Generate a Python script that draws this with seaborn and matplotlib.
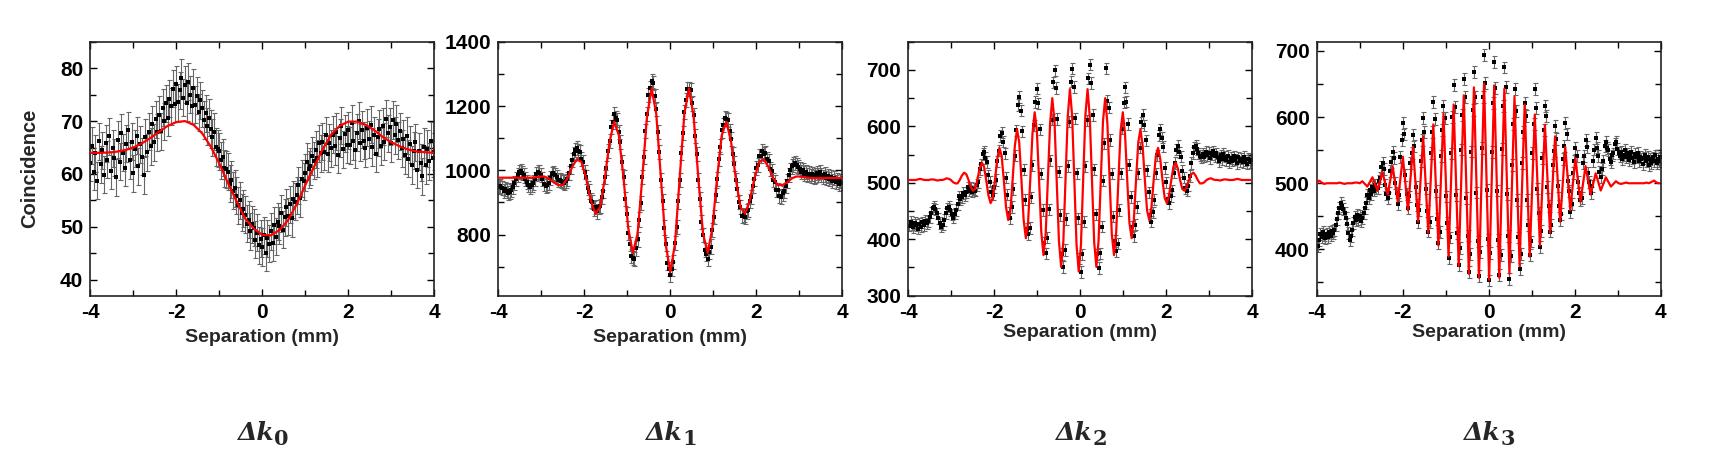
import numpy as np
import pandas as pd
import matplotlib
matplotlib.use("Agg")
import matplotlib.pyplot as plt
from matplotlib.ticker import MultipleLocator
import seaborn as sns

# ---- panel dk0 : measured coincidences (step 0.04 mm from -4) and fit (step 0.2 mm)
dk0_start, dk0_step = -4.0, 0.04
dk0_counts = [
    62.1, 65.3, 60.4, 63.9, 58.7, 66.2, 61.8, 64.5, 59.9, 65.8,
    62.7, 67.1, 60.6, 64.9, 63.1, 59.4, 66.5, 62.3, 67.8, 64.0,
    61.2, 65.7, 68.3, 62.6, 66.1, 60.1, 64.8, 67.2, 61.5, 65.6,
    63.3, 59.8, 66.9, 64.1, 68.0, 65.2, 69.4, 66.0, 70.3, 67.9,
    71.2, 68.1, 72.5, 70.0, 73.4, 70.6, 74.2, 72.8, 76.1, 73.3,
    77.0, 73.6, 75.8, 78.2, 74.4, 76.9, 73.5, 77.4, 75.0, 72.9,
    76.3, 73.1, 74.8, 71.7, 73.9, 72.4, 70.2, 71.5, 69.0, 70.6,
    68.5, 66.9, 68.0, 65.1, 64.8, 64.3, 62.6, 63.2, 61.1, 60.9,
    60.4, 58.2, 58.9, 56.8, 57.3, 55.9, 54.1, 55.0, 52.7, 53.4,
    52.3, 50.6, 51.4, 49.2, 50.5, 49.8, 47.6, 48.9, 46.5, 47.8,
    46.2, 48.4, 45.1, 47.9, 46.8, 49.2, 47.0, 50.3, 48.1, 51.0,
    50.2, 52.6, 49.5, 51.8, 53.7, 52.0, 54.3, 51.6, 55.2, 54.8,
    56.0, 57.9, 55.4, 59.1, 58.6, 60.2, 62.3, 60.9, 61.5, 63.4,
    62.5, 64.6, 63.0, 65.8, 63.9, 66.1, 64.2, 67.3, 63.8, 65.9,
    64.9, 67.4, 65.2, 68.0, 63.6, 66.8, 69.1, 64.7, 67.6, 65.5,
    68.3, 65.4, 69.6, 66.2, 64.6, 67.8, 70.1, 65.9, 68.4, 66.3,
    64.9, 68.7, 66.6, 69.3, 65.1, 67.3, 63.8, 66.9, 68.5, 65.2,
    69.0, 66.1, 70.4, 67.7, 68.9, 65.8, 70.2, 67.3, 69.5, 66.4,
    68.1, 64.9, 66.7, 63.5, 67.2, 62.9, 65.6, 61.7, 64.4, 66.0,
    60.8, 64.3, 62.1, 59.6, 65.1, 61.7, 64.8, 62.4, 66.3, 63.0,
    64.2,
]
dk0_err = 3.5
dk0_fit_start, dk0_fit_step = -4.0, 0.2
dk0_fit = [
    64.0, 64.0, 64.05, 64.2, 64.5, 65.0, 65.8, 66.8, 68.0, 69.1,
    69.8, 70.0, 69.3, 67.7, 65.2, 62.0, 58.3, 54.9, 51.6, 49.7,
    48.5, 48.4, 49.4, 51.3, 54.3, 57.9, 61.3, 64.6, 67.4, 69.1,
    69.9, 69.9, 69.3, 68.3, 67.0, 66.0, 65.2, 64.6, 64.25, 64.1,
    64.0,
]

# ---- panel dk1
dk1_start, dk1_step = -3.9875, 0.03625
dk1_counts = [
    947, 951, 945, 936, 942, 937, 930, 934, 940, 948,
    960, 973, 986, 994, 998, 992, 984, 972, 963, 955,
    949, 953, 962, 974, 988, 996, 993, 985, 972, 958,
    950, 955, 962, 975, 988, 992, 985, 978,
    971, 969, 967, 964, 962, 966, 972, 992, 1012, 1032, 1051, 1063,
    1069, 1059, 1058, 1035, 1026, 994, 979, 945, 934, 906, 901, 881,
    887, 872, 886, 888, 918, 935, 979, 1008, 1060, 1090, 1135, 1150,
    1174, 1162, 1157, 1119, 1087, 1026, 979, 910, 864, 804, 772, 733,
    728, 724, 757, 785, 847, 899, 979, 1042, 1123, 1174, 1233, 1256,
    1278, 1272, 1231, 1192, 1120, 1056, 969, 903, 822, 770, 712, 692,
    675, 694, 716, 774, 824, 903, 969, 1054, 1115, 1182, 1218, 1254,
    1252, 1249, 1208, 1173, 1107, 1050, 971, 912, 840, 798, 753, 739,
    724, 745, 763, 814, 856, 923, 972, 1035, 1074, 1124, 1141, 1164,
    1159, 1156, 1122, 1098, 1051, 1021, 971, 943, 902, 886, 859, 862,
    855, 872, 876, 904, 916, 952, 972, 1006, 1017, 1045, 1045, 1061,
    1052, 1055, 1034, 1030, 1005, 998, 971, 964, 939, 938, 920, 916, 928,
    935, 950, 968, 985, 1000, 1012, 1018, 1022, 1015, 1010,
    1003, 996, 1001, 990, 994, 985, 990, 981, 988, 979,
    984, 992, 985, 995, 986, 980, 987, 976, 983, 972,
    979, 968, 975, 963, 970, 958, 966, 961,
]
dk1_err = 22
dk1_fit_start, dk1_fit_step = -4.02375, 0.10875
dk1_fit = [
    977, 977, 977, 977, 977, 977, 977, 977, 978, 980, 981, 975,
    963, 954, 954, 975, 1010, 1034, 1026, 975, 906, 865, 886, 975,
    1088, 1151, 1109, 975, 821, 743, 803, 975, 1165, 1255, 1175, 975,
    771, 684, 771,
    975, 1175, 1255, 1165, 975, 803, 743, 821, 975, 1109, 1151, 1088,
    975, 886, 865, 906, 975, 1026, 1034, 1010, 975, 954, 954, 963,
    975, 981, 980, 978, 976, 976, 976, 976, 976, 976, 976, 976,
]

# ---- panel dk2
dk2_start, dk2_step = -3.9825, 0.0341667
dk2_counts = [
    424, 431, 426, 421, 429, 425, 419, 427, 422, 430,
    425, 433, 428, 432, 439, 447, 455, 458, 453, 446,
    437, 429, 422, 426, 434, 446, 455, 458, 452, 444,
    438, 445, 452, 462, 476, 471, 475, 482, 478, 483,
    492, 486, 491, 484, 489,
    486, 496, 501, 524, 533, 551,
    555, 544, 537, 513, 502, 484,
    479, 492, 505, 538, 557, 583,
    589, 573, 552, 509, 479, 447,
    437, 457, 489, 548, 593, 638,
    652, 628, 591, 523, 470, 419,
    409, 420, 474, 531, 602, 643,
    667, 641, 595, 516, 452, 394,
    375, 403, 453, 540, 612, 678,
    699, 668, 613, 520, 443, 374,
    351, 381, 436, 530, 608, 679,
    702, 670, 614, 517, 437, 366,
    342, 373, 431, 529, 611, 685,
    709, 677, 620, 524, 444, 373,
    349, 375, 422, 504, 570, 703,
    645, 633, 576, 516, 440, 397,
    379, 392, 452, 517, 596, 642,
    669, 644, 604, 532, 475, 422,
    405, 426, 457, 517, 562, 607,
    621, 602, 575, 522, 483, 443,
    431, 448, 470, 517, 549, 584,
    595, 580, 564, 526, 501, 472,
    464, 476, 487, 518, 535, 559,
    565, 554, 546, 521, 509, 490,
    486, 495, 512, 535, 553, 563, 566, 560, 552, 548,
    545, 551, 546, 555, 549, 553, 544, 550, 556, 547,
    552, 545, 538, 549, 542, 551, 546, 540, 548, 536,
    544, 539, 547, 541, 535, 545, 538, 543, 536, 546,
    540, 534, 542, 537, 541,
]
dk2_err = 10
dk2_fit_start, dk2_fit_step = -3.9825, 0.05125
dk2_fit = [
    505, 505, 505, 505, 506, 507, 506, 505, 505, 505, 506, 506, 505,
    504, 505, 505, 506, 508, 507, 505, 501, 499, 499, 505, 513, 518,
    515, 505, 493, 486, 489, 505, 525, 536, 529, 505, 478, 464, 473,
    505, 542, 562, 548, 505, 457, 434, 451, 505, 565, 595, 571, 505,
    434, 402, 429, 505, 587, 625, 592, 505, 413, 372, 409, 505, 605,
    650, 609, 505, 398, 351, 395, 505, 617, 666, 619, 505, 390,
    343,
    390, 505, 619, 666, 617, 505, 395, 351, 398, 505, 609, 650, 605,
    505, 409, 372, 413, 505, 592, 625, 587, 505, 429, 402, 434, 505,
    571, 595, 565, 505, 451, 434, 457, 505, 548, 562, 542, 505, 473,
    464, 478, 505, 529, 536, 525, 505, 489, 486, 493, 505, 515, 518,
    513, 505, 499, 499, 501, 505, 507, 508, 506, 505, 505, 504, 505,
    506, 506, 505, 505, 505, 506, 507, 506, 505, 505, 505, 505, 505,
]

# ---- panel dk3
dk3_start, dk3_step = -3.9725, 0.0295
dk3_counts = [
    405, 414, 423, 418, 427, 422, 417, 424, 419, 426,
    421, 428, 425, 430, 437, 446, 455, 463, 470, 466,
    461, 455, 448, 438, 425, 414, 420, 430, 440, 449,
    444, 452, 446, 450, 443, 448, 455, 462, 470, 482,
    478, 490, 484, 494, 489, 498, 492,
    493, 503, 508, 525, 530, 522, 497, 484,
    478, 486, 519, 532, 548, 538, 500, 486,
    468, 482, 540, 565, 591, 575, 512, 484,
    462, 480, 531, 546, 573, 556, 494, 467,
    441, 460, 534, 566, 598, 578, 492, 458,
    427, 441, 546, 578, 623, 597, 488, 446,
    409, 426, 541, 580, 617, 598, 480, 440,
    387, 418, 545, 600, 648, 615, 482, 425,
    377, 402, 551, 603, 657, 630, 478, 421,
    366, 393, 548, 611, 668, 630, 486, 412,
    360, 396, 553, 630, 694, 652, 490, 415,
    353, 394, 547, 622, 683, 644, 489, 414,
    361, 391, 552, 617, 675, 646, 484, 420,
    355, 390, 528, 590, 643, 609, 475, 418,
    371, 393, 530, 578, 622, 602, 474, 437,
    391, 412, 546, 590, 643, 614, 492, 455,
    403, 428, 538, 581, 617, 602, 494, 465,
    427, 437, 528, 549, 586, 567, 496, 466,
    444, 453, 536, 557, 591, 574, 503, 488,
    456, 469, 516, 533, 553, 541, 502, 486,
    474, 478, 531, 541, 565, 555, 516, 502,
    485, 496, 534, 551, 568, 554, 541, 517,
    509, 522, 533, 556, 563, 553, 550, 536,
    532, 542, 545, 559, 562,
    552, 546, 541, 548, 537, 543, 550, 539, 545, 535,
    541, 547, 538, 532, 544, 539, 546, 534, 540, 536,
    529, 538, 543, 533, 540, 528, 536, 531, 539, 534,
    542, 530, 537, 533, 539,
]
dk3_err = 9
dk3_fit_start, dk3_fit_step = -4.002, 0.059
dk3_fit = [
    500, 504, 501, 499, 500, 500, 500, 500, 500, 501, 500, 499, 500,
    500, 500, 501, 501, 500, 503, 499, 495, 502, 509, 499, 489, 503,
    517, 500, 483, 504, 525, 498, 472, 506, 540, 500, 459, 507, 555,
    498, 442, 506, 571, 498, 425, 507, 589, 497, 406, 505, 605, 497,
    389, 504, 619, 497, 375, 504, 633, 498, 363, 504, 645, 501, 357,
    504, 651, 502,
    354, 501, 648, 502, 357, 500, 643, 503, 363, 497, 631, 503, 375,
    497, 619, 504, 389, 496, 604, 505, 406, 497, 588, 506, 425, 498,
    571, 506, 442, 498, 555, 507, 459, 498, 538, 505, 472, 499, 526,
    504, 483, 499, 515, 502, 489, 499, 509, 502, 495, 499, 503, 500,
    499, 500, 501, 500, 500, 500, 500, 500, 500, 500, 501, 500, 502,
    504, 501, 500,
]

panels = [
    ("0", dk0_start, dk0_step, dk0_counts, dk0_err, dk0_fit_start, dk0_fit_step, dk0_fit, (37, 85), 10, 5),
    ("1", dk1_start, dk1_step, dk1_counts, dk1_err, dk1_fit_start, dk1_fit_step, dk1_fit, (610, 1400), 200, 100),
    ("2", dk2_start, dk2_step, dk2_counts, dk2_err, dk2_fit_start, dk2_fit_step, dk2_fit, (300, 750), 100, 50),
    ("3", dk3_start, dk3_step, dk3_counts, dk3_err, dk3_fit_start, dk3_fit_step, dk3_fit, (330, 714), 100, 50),
]

sns.set_style("ticks")
plt.rcParams["font.family"] = ["Liberation Sans", "DejaVu Sans"]
plt.rcParams["font.weight"] = "bold"
plt.rcParams["axes.unicode_minus"] = False

W, H = 1732, 449
fig = plt.figure(figsize=(W / 100, H / 100), dpi=100)
lefts = [90.3, 498.3, 908.3, 1316.7]
xlabel_pads = [5, 5, 2, 2]

for i, (sub, xs, dx, counts, err, fs, fdx, fit, ylim, major, minor) in enumerate(panels):
    ax = fig.add_axes([lefts[i] / W, (H - 295.7) / H, 344 / W, 254 / H])
    sep = xs + dx * np.arange(len(counts))
    df = pd.DataFrame({"Separation (mm)": sep, "Coincidence": counts})
    fit_df = pd.DataFrame({"sep": fs + fdx * np.arange(len(fit)), "fit": fit})

    ax.errorbar(df["Separation (mm)"], df["Coincidence"], yerr=err, fmt="none",
                ecolor="#666666", elinewidth=0.8, capsize=1.8, capthick=0.8, zorder=1)
    sns.scatterplot(data=df, x="Separation (mm)", y="Coincidence", marker="s", s=11,
                    color="black", linewidth=0, ax=ax, zorder=2)
    sns.lineplot(data=fit_df, x="sep", y="fit", sort=False, estimator=None,
                 color="#ff0000", lw=1.6, ax=ax, zorder=3)

    ax.set_xlim(-4, 4)
    ax.set_ylim(*ylim)
    ax.xaxis.set_major_locator(MultipleLocator(2))
    ax.xaxis.set_minor_locator(MultipleLocator(1))
    ax.yaxis.set_major_locator(MultipleLocator(major))
    ax.yaxis.set_minor_locator(MultipleLocator(minor))
    ax.tick_params(which="both", direction="in", top=True, right=True, width=1.0,
                   colors="black", labelsize=15, pad=5)
    ax.tick_params(which="major", length=5)
    ax.tick_params(which="minor", length=4)
    for lab in ax.get_xticklabels() + ax.get_yticklabels():
        lab.set_fontweight("bold")
    for sp in ax.spines.values():
        sp.set_color("#222222")
        sp.set_linewidth(1.2)

    ax.set_xlabel("Separation (mm)", fontsize=14, fontweight="bold", labelpad=xlabel_pads[i])
    if i == 0:
        ax.set_ylabel("Coincidence", fontsize=14.5, fontweight="bold", labelpad=15)
    else:
        ax.set_ylabel("")

    xc = (lefts[i] + 172) / W
    t = fig.text(xc - 7 / W, (H - 440) / H, "Δk", ha="center", va="baseline",
                 fontsize=18, fontfamily="DejaVu Serif", fontstyle="italic", fontweight="bold")
    ax.annotate(sub, xy=(1.0, 0.0), xycoords=t, xytext=(0.5, 0), textcoords="offset points",
                ha="left", va="baseline", fontsize=15, fontfamily="DejaVu Serif", fontweight="bold")

fig.savefig("out.png", dpi=100)
